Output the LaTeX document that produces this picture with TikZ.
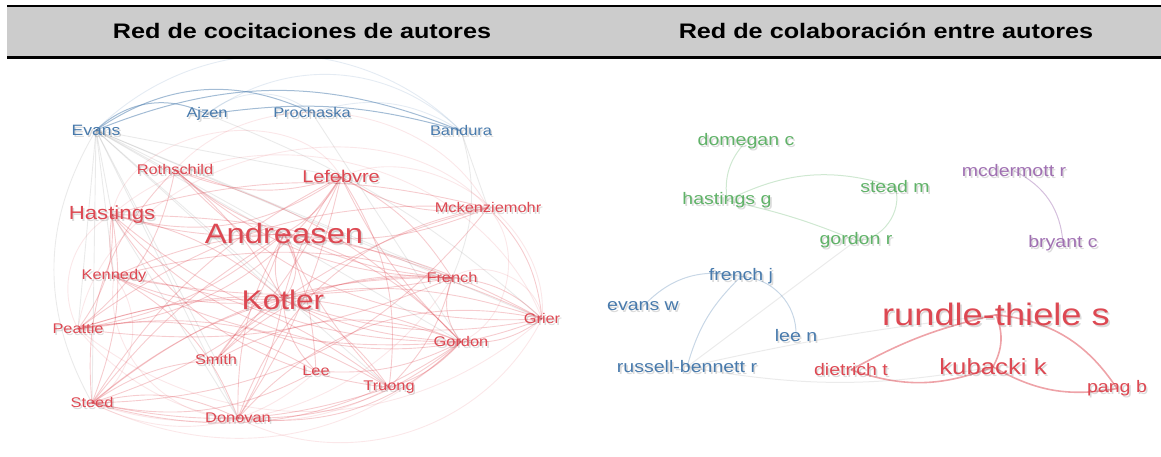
\documentclass[tikz,border=0pt]{standalone}
\usepackage{fontspec}
\setmainfont{Liberation Sans}
\usetikzlibrary{backgrounds}
\definecolor{hdrgray}{HTML}{CCCCCC}
\definecolor{cred}{RGB}{221,72,82}
\definecolor{cblue}{RGB}{72,122,172}
\definecolor{cgreen}{RGB}{96,178,104}
\definecolor{cpurple}{RGB}{160,112,178}
\newcommand{\sxx}[1]{\scalebox{1.17}[1]{#1}}
\newcommand{\lab}[6]{%
  \node[lblshadow, fs=#4] (#1-s) at (#2+1.6,{#3+0.35*#4+1.8}) {\sxx{#6}};
  \node[lbl, fs=#4, text=#5] (#1) at (#2,{#3+0.35*#4}) {\sxx{#6}};}
\tikzset{
  fs/.style={font=\fontsize{#1}{#1}\selectfont},
  lbl/.style={inner sep=0pt, anchor=base},
  lblshadow/.style={inner sep=0pt, anchor=base, text=black, text opacity=0.14},
  hdr/.style={inner sep=0pt, anchor=base, font=\fontsize{21}{21}\selectfont\bfseries},
  redge/.style={draw=cred, opacity=0.28, line width=0.9pt},
  fedge/.style={draw=cred, opacity=0.13, line width=0.9pt},
  gedge/.style={draw=black!55, opacity=0.15, line width=0.9pt},
  bedge/.style={draw=cblue, opacity=0.5, line width=1pt},
  bfedge/.style={draw=cblue, opacity=0.15, line width=0.9pt},
  rgedge/.style={draw=cgreen, opacity=0.3, line width=1pt},
  rbedge/.style={draw=cblue, opacity=0.3, line width=1pt},
  rpedge/.style={draw=cpurple, opacity=0.45, line width=1pt},
  rredge/.style={draw=cred, opacity=0.5, line width=1.6pt},
  rfedge/.style={draw=black, opacity=0.08, line width=1pt},
}
\begin{document}
\begin{tikzpicture}[x=1pt,y=-1pt]
\useasboundingbox (0,0) rectangle (1161,456);
% header
\fill[hdrgray] (7,7) rectangle (1161,57);
\draw[line width=2.6pt] (7,6) -- (1161,6);
\draw[line width=2.6pt] (7,57.5) -- (1161,57.5);
\node[hdr] (h1) at (302,38.5) {\scalebox{1.2}[1]{Red de cocitaciones de autores}};
\node[hdr] (h2) at (886,38.5) {\scalebox{1.2}[1]{Red de colaboración entre autores}};

% left network labels
\lab{evans}{96}{130}{15}{cblue}{Evans}
\lab{ajzen}{207}{113}{14}{cblue}{Ajzen}
\lab{prochaska}{312}{113}{14}{cblue}{Prochaska}
\lab{bandura}{461}{131}{14}{cblue}{Bandura}
\lab{rothschild}{175}{170}{14}{cred}{Rothschild}
\lab{lefebvre}{341}{177}{17}{cred}{Lefebvre}
\lab{hastings}{112}{213}{19}{cred}{Hastings}
\lab{mckenzie}{488}{208}{14}{cred}{Mckenziemohr}
\lab{andreasen}{284}{234}{28}{cred}{Andreasen}
\lab{kennedy}{114}{275}{14}{cred}{Kennedy}
\lab{kotler}{283}{300}{27}{cred}{Kotler}
\lab{french}{452}{278}{14}{cred}{French}
\lab{peattie}{78}{329}{14}{cred}{Peattie}
\lab{grier}{542}{319}{14}{cred}{Grier}
\lab{gordon}{461}{342}{14}{cred}{Gordon}
\lab{smith}{216}{360}{14}{cred}{Smith}
\lab{lee}{316}{371}{14}{cred}{Lee}
\lab{truong}{389}{386}{14}{cred}{Truong}
\lab{steed}{92}{403}{14}{cred}{Steed}
\lab{donovan}{238}{418}{14}{cred}{Donovan}

% right network labels
\lab{domegan}{746}{140}{16.7}{cgreen}{domegan c}
\lab{hastingsg}{727}{199}{16.7}{cgreen}{hastings g}
\lab{steadm}{895}{187}{16.7}{cgreen}{stead m}
\lab{gordonr}{856}{239}{16.7}{cgreen}{gordon r}
\lab{mcdermott}{1014}{171}{16.7}{cpurple}{mcdermott r}
\lab{bryant}{1063}{242}{16.7}{cpurple}{bryant c}
\lab{frenchj}{741}{275}{16.7}{cblue}{french j}
\lab{evansw}{643}{305}{16.7}{cblue}{evans w}
\lab{leen}{796}{336}{16.7}{cblue}{lee n}
\lab{russell}{687}{367}{16.7}{cblue}{russell-bennett r}
\lab{dietrich}{851}{370}{16.7}{cred}{dietrich t}
\lab{rundle}{996}{315}{31}{cred}{rundle-thiele s}
\lab{kubacki}{993}{367}{22}{cred}{kubacki k}
\lab{pang}{1117}{387}{16.7}{cred}{pang b}

\begin{pgfonlayer}{background}
% blue edges
\draw[bedge] (evans.center) to[bend left=35] (ajzen.center);
\draw[bedge] (evans.center) to[bend left=30] (prochaska.center);
\draw[bedge] (evans.center) to[bend left=22] (bandura.center);
\draw[bedge] (ajzen.center) to[bend left=12] (bandura.center);
\draw[bfedge] (prochaska.center) to[bend left=25] (bandura.center);
\draw[bfedge] (ajzen.center) to[bend left=40] (prochaska.center);
\draw[bfedge] (ajzen.center) to[bend left=40] (bandura.center);
\draw[bfedge] (evans.center) to[bend left=45] (bandura.center);
% gray edges
\foreach \t in {hastings,kennedy,peattie,steed,smith,kotler,andreasen,french,gordon,grier,lefebvre,donovan,rothschild,truong}
  \draw[gedge] (evans.center) -- (\t.center);
\draw[gedge] (evans.center) to[bend right=30] (steed.center);
\draw[gedge] (bandura.center) -- (mckenzie.center);
\draw[gedge] (bandura.center) to[bend left=20] (french.center);
\draw[gedge] (prochaska.center) -- (gordon.center);
\draw[gedge] (ajzen.center) to[bend left=10] (grier.center);
\draw[gedge] (hastings.center) -- (donovan.center);
% red edges from hubs
\foreach \t/\b in {hastings/10,lefebvre/-15,rothschild/10,kennedy/-10,peattie/15,steed/-10,smith/10,donovan/-15,lee/10,truong/-10,gordon/15,french/-10,grier/10,mckenzie/-15}
  \draw[redge] (andreasen.center) to[bend left=\b] (\t.center);
\foreach \t/\b in {hastings/-15,lefebvre/10,rothschild/-10,kennedy/15,peattie/-10,steed/10,smith/-15,donovan/10,lee/-20,truong/15,gordon/-10,french/10,grier/-15,mckenzie/10}
  \draw[redge] (kotler.center) to[bend left=\b] (\t.center);
\draw[redge] (andreasen.center) to[bend left=40] (kotler.center);
\draw[redge] (andreasen.center) to[bend right=25] (kotler.center);
% other red edges
\foreach \a/\t/\b in {hastings/steed/15, hastings/gordon/-20, hastings/french/10, hastings/lefebvre/-25, hastings/peattie/20, hastings/kennedy/-10,
  lefebvre/french/15, lefebvre/gordon/-10, lefebvre/mckenzie/-20, lefebvre/smith/10, lefebvre/steed/-15, lefebvre/truong/20, lefebvre/donovan/10,
  french/gordon/-30, french/grier/20, french/peattie/15, french/steed/-20, gordon/grier/-20, gordon/steed/25, gordon/peattie/-20,
  gordon/donovan/20, truong/gordon/-15, truong/steed/15, truong/peattie/-20, smith/gordon/25, smith/steed/-15, donovan/steed/-20,
  donovan/gordon/-25, donovan/grier/30, steed/grier/30, kennedy/gordon/-15, kennedy/grier/20, mckenzie/peattie/-20, mckenzie/steed/25,
  mckenzie/hastings/-15, rothschild/french/-20, rothschild/gordon/15, rothschild/peattie/20, rothschild/steed/-25, lee/gordon/-15,
  lee/steed/20, kennedy/french/-10, smith/french/25, hastings/grier/-35, rothschild/lefebvre/-20, kennedy/truong/15, peattie/lee/20,
  mckenzie/grier/20, mckenzie/donovan/-30, french/truong/15, hastings/truong/-25, kennedy/donovan/20, rothschild/grier/-25, lefebvre/peattie/25}
  \draw[redge] (\a.center) to[bend left=\b] (\t.center);
% faint outer loops
\draw[fedge] (peattie.center) to[bend right=40] (grier.center);
\draw[fedge] (steed.center) to[bend right=35] (gordon.center);
\draw[fedge] (hastings.center) to[bend left=55] (grier.center);
\draw[fedge] (peattie.center) to[bend left=65] (mckenzie.center);
\draw[fedge] (steed.center) to[bend right=38] (french.center);
\draw[fedge] (kennedy.center) to[bend right=50] (donovan.center);
\draw[fedge] (donovan.center) to[bend right=45] (grier.center);
\draw[fedge] (hastings.center) to[bend left=70] (lefebvre.center);
\draw[fedge] (peattie.center) to[bend right=40] (truong.center);
\draw[fedge] (lefebvre.center) to[bend left=60] (grier.center);
\draw[fedge] (kennedy.center) to[bend left=50] (steed.center);
\draw[fedge] (rothschild.center) to[bend left=55] (mckenzie.center);
\draw[fedge] (steed.center) to[bend right=35] (lee.center);
\draw[fedge] (mckenzie.center) to[bend left=55] (gordon.center);
\draw[fedge] (french.center) to[bend left=60] (grier.center);
\draw[fedge] (hastings.center) to[bend right=45] (peattie.center);

% right network edges
\draw[rgedge] (domegan.center) to[bend right=25] (hastingsg.center);
\draw[rgedge] (hastingsg.center) to[bend left=22] (steadm.center);
\draw[rgedge] (hastingsg.center) to[bend left=5] (gordonr.center);
\draw[rgedge] (steadm.center) to[bend left=55] (gordonr.center);
\draw[rfedge] (gordonr.center) -- (russell.center);
\draw[rpedge] (mcdermott.center) to[bend left=30] (bryant.center);
\draw[rbedge] (frenchj.center) to[bend right=30] (evansw.center);
\draw[rbedge] (frenchj.center) to[bend right=15] (russell.center);
\draw[rbedge] (frenchj.center) to[bend left=45] (leen.center);
\draw[rfedge] (russell.center) to[bend left=3] (rundle.center);
\draw[rfedge] (russell.center) to[bend right=10] (kubacki.center);
\draw[rredge] (dietrich.center) to[bend left=8] (rundle.center);
\draw[rredge] (dietrich.center) to[bend right=20] (kubacki.center);
\draw[rredge] (rundle.center) to[bend left=25] (kubacki.center);
\draw[rredge] (rundle.center) to[bend left=25] (pang.center);
\draw[rredge] (kubacki.center) to[bend right=20] (pang.center);
\end{pgfonlayer}
\end{tikzpicture}
\end{document}
